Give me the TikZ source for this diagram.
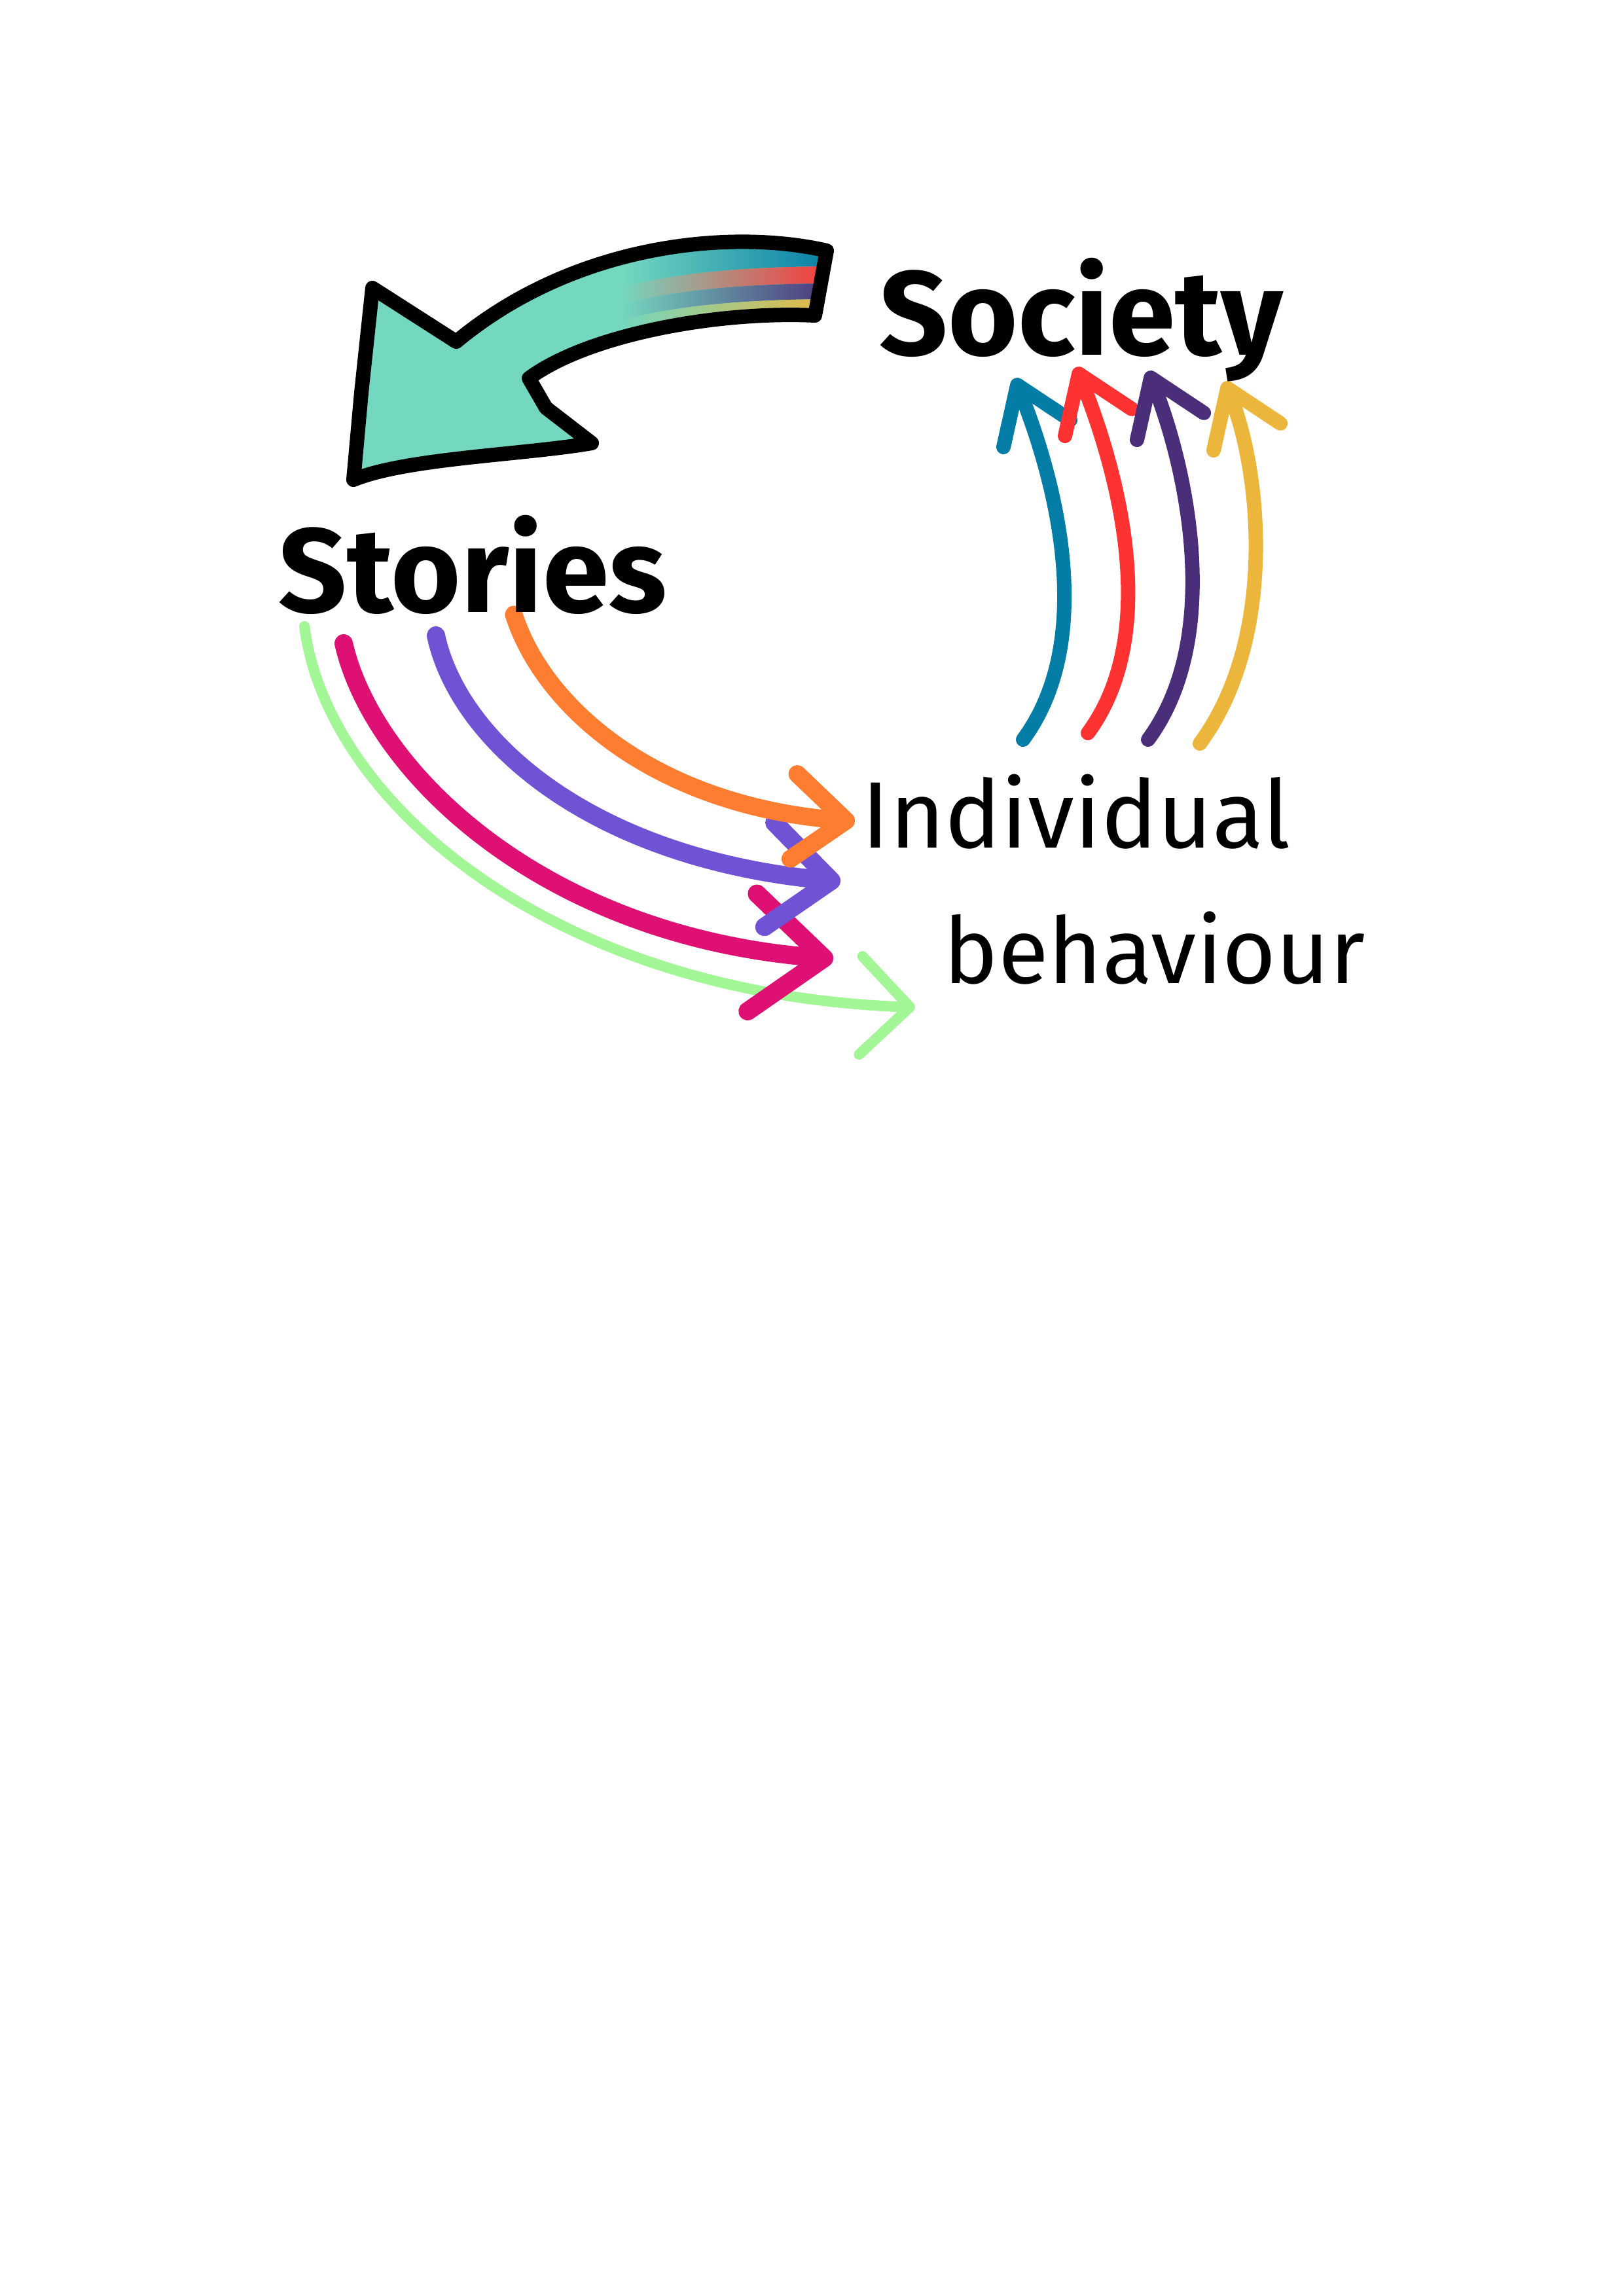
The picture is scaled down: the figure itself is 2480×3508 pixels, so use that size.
\documentclass[tikz,border=0pt]{standalone}
\usepackage{fontspec}
\setmainfont{Fira Sans}
\usetikzlibrary{arrows.meta}
\definecolor{stteal}{RGB}{116,215,191}
\definecolor{stblue}{RGB}{3,124,166}
\definecolor{stred}{RGB}{255,50,50}
\definecolor{stpurple}{RGB}{75,46,122}
\definecolor{styellow}{RGB}{236,182,60}
\definecolor{storange}{RGB}{255,125,48}
\definecolor{stviolet}{RGB}{112,82,212}
\definecolor{stmagenta}{RGB}{222,16,116}
\definecolor{stgreen}{RGB}{163,246,150}

\newcommand{\storyshape}{(1263,383) .. controls (1120,350) and (880,370) .. (697,522)
  -- (569,440) -- (552,600) -- (540,733)
  .. controls (620,700) and (800,695) .. (904,677)
  -- (834,623) -- (808,578)
  .. controls (900,510) and (1100,475) .. (1245,482) -- cycle}

\begin{document}
\begin{tikzpicture}[
  x=0.01cm, y=-0.01cm,
  lbl/.style={anchor=base west, inner sep=0pt},
  rise/.style={line width=0.22cm, line cap=round, -{Straight Barb[length=0.8cm, width=1.1cm, round]}},
  flow/.style={line cap=round, line join=round}
]
\useasboundingbox (0,0) rectangle (2480,3508);

\fill[stteal] \storyshape;
\begin{scope}
\clip \storyshape;
\foreach \col/\bt/\bb in {stblue/340/407, stred/407/433, stpurple/433/457, styellow/457/495}
  \shade[left color=stteal, middle color=\col!70!stteal, right color=\col] (950,\bt+32) .. controls (1040,\bt+8) and (1150,\bt) .. (1280,\bt)
    -- (1280,\bb) .. controls (1150,\bb) and (1040,\bb+8) .. (950,\bb+32) -- cycle;
\end{scope}
\draw[line width=0.22cm, line join=round] \storyshape;

\coordinate (gr-s) at (465,957);   \coordinate (gr-t) at (1398,1539);
\coordinate (mg-s) at (525,983);   \coordinate (mg-t) at (1273,1465);
\coordinate (vi-s) at (666,971);   \coordinate (vi-t) at (1284,1347);
\coordinate (or-s) at (785,939);   \coordinate (or-t) at (1306,1255);

\draw[flow, stgreen, line width=0.16cm, -{Straight Barb[length=0.75cm, width=1.5cm, round]}]
  (gr-s) .. controls (500,1230) and (850,1520) .. (gr-t);
\draw[flow, stmagenta, line width=0.28cm, -{Straight Barb[length=1.1cm, width=1.8cm, round]}]
  (mg-s) .. controls (570,1180) and (830,1430) .. (mg-t);
\draw[flow, stviolet, line width=0.28cm, -{Straight Barb[length=0.95cm, width=1.6cm, round]}]
  (vi-s) .. controls (700,1130) and (900,1310) .. (vi-t);
\draw[flow, storange, line width=0.27cm, -{Straight Barb[length=0.8cm, width=1.3cm, round]}]
  (or-s) .. controls (830,1080) and (1000,1230) .. (or-t);

\coordinate (bl-s) at (1563,1130); \coordinate (bl-t) at (1550,578);
\coordinate (rd-s) at (1662,1120); \coordinate (rd-t) at (1644,561);
\coordinate (pu-s) at (1754,1130); \coordinate (pu-t) at (1754,567);
\coordinate (ye-s) at (1833,1136); \coordinate (ye-t) at (1871,583);

\draw[rise, stblue] (bl-s) .. controls (1681,970) and (1606,717) .. (bl-t);
\draw[rise, stred] (rd-s) .. controls (1780,960) and (1700,700) .. (rd-t);
\draw[rise, stpurple] (pu-s) .. controls (1872,970) and (1810,706) .. (pu-t);
\draw[rise, styellow] (ye-s) .. controls (1951,976) and (1927,722) .. (ye-t);

\node[lbl, font=\fontsize{52pt}{58pt}\selectfont\bfseries] (stories) at (425,935) {Stories};
\node[lbl, font=\fontsize{52pt}{58pt}\selectfont\bfseries] (society) at (1343,542) {Society};
\node[lbl, font=\fontsize{41pt}{46pt}\selectfont] (indiv) at (1316,1295) {Individual};
\node[lbl, font=\fontsize{40pt}{46pt}\selectfont] (behav) at (1441,1502) {behaviour};
\end{tikzpicture}
\end{document}
